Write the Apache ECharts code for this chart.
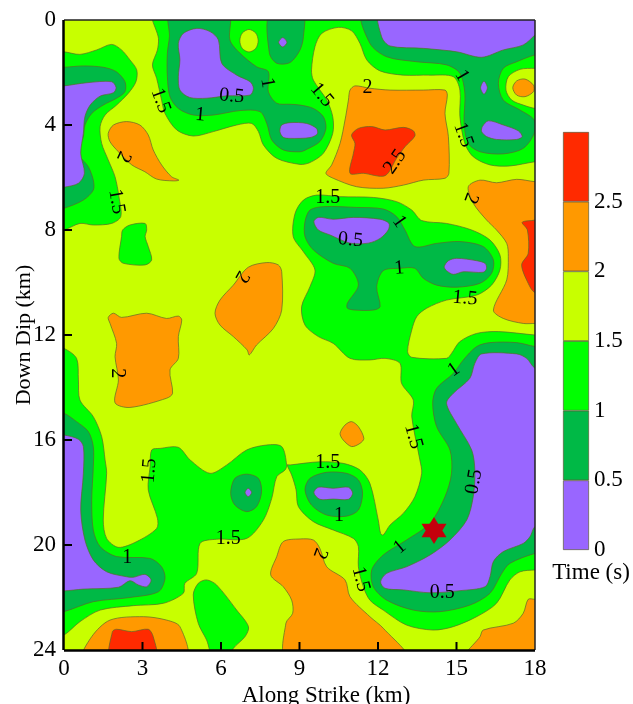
<!DOCTYPE html>
<html><head><meta charset="utf-8">
<style>html,body{margin:0;padding:0;background:#fff}#c{width:633px;height:704px}</style>
<script src="https://cdn.jsdelivr.net/npm/echarts@6/dist/echarts.min.js"></script>
</head><body><div id="c"></div>
<script>
// Contour band outlines: [along strike km, down dip km]
const green1=[[0,1.21],[.61,1.31],[1.25,1.14],[1.82,.93],[2.2,1.14],[2.52,1.52],[2.78,1.9],[2.75,2.35],[2.46,2.79],[2.01,3.24],[1.57,3.62],[1.38,4.06],[1.44,4.7],[1.69,5.33],[1.95,5.97],[2.1,6.73],[2.17,7.49],[1.82,7.75],[1.12,7.81],[.61,7.75],[0,8],[-.3,8],[-.3,1.21]];
const green2=[[3.44,-.3],[3.61,.7],[3.57,1.14],[3.38,1.71],[3.54,2.22],[3.73,3.05],[3.86,3.56],[4.31,4.19],[4.94,4.42],[5.71,4.25],[6.6,4],[7.17,3.94],[7.43,4.25],[7.62,4.76],[8.13,5.27],[9.02,5.5],[9.4,5.43],[9.91,5.08],[10.27,4.32],[10.27,3.68],[10.04,3.05],[9.53,2.29],[9.46,1.9],[9.59,1.02],[9.85,.51],[10.48,.28],[10.99,.41],[11.31,.89],[11.57,1.52],[12.08,1.94],[12.97,2.1],[13.99,2.1],[14.88,2.16],[15.13,2.67],[15.13,3.68],[15.32,4.7],[15.64,5.21],[16.28,5.52],[17.04,5.56],[18,5.4],[18.3,5.4],[18.3,-.3]];
const green3=[[8.83,7.37],[9.15,6.86],[9.66,6.67],[10.55,6.73],[11.82,6.76],[12.71,6.92],[13.29,7.24],[13.67,7.64],[14.62,7.75],[15.58,8],[16.28,8.38],[16.66,8.95],[16.66,9.52],[16.34,10.1],[15.77,10.48],[14.62,10.67],[13.86,10.98],[13.48,11.3],[13.29,11.81],[13.13,12.63],[13.29,12.85],[14.62,12.89],[14.81,12.7],[15.13,12.25],[15.77,11.94],[16.6,11.87],[18,12],[18.3,12],[18.3,20.95],[18,20.95],[17.43,21.02],[17.04,21.33],[16.53,22.22],[15.77,22.73],[14.88,23.11],[14.11,23.24],[13.09,23.05],[12.2,22.48],[11.69,22.1],[11.44,21.59],[11.25,20.83],[11.25,20.06],[11.06,19.75],[10.29,19.43],[9.53,19.11],[8.96,18.54],[8.87,17.9],[8.7,17.33],[8.53,16.95],[8.64,16.95],[9.78,16.83],[10.67,16.89],[11.31,17.14],[11.69,17.65],[12.01,19.05],[12.1,19.56],[12.2,19.62],[12.46,19.24],[12.97,18.79],[13.41,18.16],[13.67,17.27],[13.6,16.76],[13.29,15.11],[13.35,14.48],[12.9,13.84],[12.84,13.08],[12.27,12.89],[11.69,12.95],[10.93,12.89],[10.29,12.32],[9.72,12.06],[9.21,11.62],[9.08,10.92],[9.4,10.16],[9.59,9.52],[9.15,8.83],[8.76,8.25]];
const green4=[[2.24,8],[2.52,7.81],[3.1,7.75],[3.16,8],[3.1,8.25],[3.22,8.63],[3.35,9.14],[3.1,9.33],[2.27,9.27],[2.1,9.08],[2.2,8.25]];
const green5=[[0,12.51],[.48,12.89],[.55,13.71],[.61,14.48],[1.12,15.11],[1.44,15.87],[1.57,16.76],[1.63,17.27],[1.5,19.05],[1.63,19.75],[2.08,20.09],[2.78,19.87],[3.54,19.37],[3.57,18.98],[3.22,17.9],[3.29,17.02],[3.35,16.38],[3.67,16.32],[4.37,16.28],[4.82,16.76],[5.58,17.27],[6.22,16.95],[6.98,16.38],[7.75,16.19],[8.32,16.25],[8.51,16.95],[8.45,17.14],[8.13,17.4],[7.94,18.22],[7.62,19.05],[6.98,19.75],[5.83,19.78],[5.2,19.94],[5.07,21.08],[4.62,21.46],[4.56,21.84],[3.8,22.22],[2.65,22.31],[1.38,22.48],[.61,22.92],[0,23.43],[-.3,23.43],[-.3,12.51]];
const green6=[[4.94,21.9],[5.13,21.46],[5.45,21.33],[5.83,21.52],[6.6,22.48],[7.05,23.11],[6.92,23.49],[6.47,23.94],[6.34,24.3],[5.71,24.3],[5.45,23.62],[5.13,22.98]];
const dark1=[[0,1.8],[.74,1.75],[1.5,1.8],[2,1.97],[2.33,2.35],[2.33,2.73],[2.01,2.98],[1.5,3.24],[1.06,3.56],[.8,4],[.74,4.44],[.55,5.08],[.93,5.59],[1.12,6.1],[1.12,6.48],[.74,6.86],[0,7.17],[-.3,7.17],[-.3,1.8]];
const dark2=[[11.44,-.3],[11.69,.89],[12.33,1.4],[13.48,1.59],[14.62,1.71],[15.13,2.03],[15.32,2.79],[15.29,3.94],[15.45,4.7],[15.9,5.02],[16.79,5.1],[17.55,4.89],[17.97,4.32],[17.97,3.81],[17.43,3.43],[16.79,3.05],[16.6,2.41],[16.79,1.84],[17.3,1.59],[18,1.33],[18.3,1.33],[18.3,-.3]];
const dark3=[[4.05,-.3],[4.03,.63],[3.95,1.27],[3.95,2.16],[4.05,2.92],[4.37,3.37],[4.94,3.62],[5.71,3.62],[6.73,3.45],[7.49,3.49],[7.75,3.94],[7.94,4.57],[8.38,4.95],[9.02,5.02],[9.27,4.93],[9.78,4.63],[10.01,4.13],[9.91,3.68],[9.53,3.37],[9.02,3.24],[8.64,3.21],[8.13,3.17],[7.81,2.73],[7.81,1.97],[7.36,1.78],[6.73,1.27],[6.34,.76],[6.28,-.3]];
const dark4=[[7.87,-.3],[7.85,1.27],[8.13,1.65],[8.64,1.62],[9.02,1.14],[9.15,.63],[9.12,-.3]];
const dark5=[[9.21,7.68],[9.4,7.24],[9.91,7.11],[11.18,7.14],[12.2,7.2],[12.71,7.49],[13.03,8],[13.41,8.63],[14.24,8.51],[15.13,8.44],[16.02,8.63],[16.41,9.14],[16.34,9.65],[15.9,10.03],[15.01,10.18],[14.24,10.1],[13.73,9.84],[13.41,9.46],[12.84,9.46],[12.2,9.55],[11.95,10.16],[12.08,10.92],[11.82,11.05],[11.12,11.05],[10.83,10.98],[10.83,10.79],[11.25,10.1],[10.93,9.46],[10.29,9.27],[9.53,8.76],[9.21,8.25]];
const dark6=[[0,14.98],[.48,15.3],[.93,15.68],[1.12,16.25],[1.12,17.02],[1.06,18.29],[1.12,19.43],[1.38,20.06],[2.01,20.44],[3.29,20.51],[3.73,20.83],[3.86,21.27],[3.61,21.78],[2.52,22],[1.12,22.16],[0,22.54],[-.3,22.54],[-.3,14.98]];
const dark7=[[6.98,17.3],[7.43,17.46],[7.55,17.97],[7.36,18.54],[6.98,18.73],[6.53,18.48],[6.37,18.03],[6.53,17.46]];
const dark8=[[18,12.44],[17.3,12.29],[16.28,12.29],[15.77,12.44],[15.26,12.95],[14.88,13.46],[14.24,14.03],[14.09,14.6],[14.24,15.49],[14.75,16.38],[14.81,17.27],[14.56,18.16],[13.99,19.17],[13.09,19.81],[12.2,20.38],[11.76,20.95],[11.82,21.59],[12.33,22.1],[13.35,22.48],[14.37,22.54],[15.51,22.29],[16.28,21.84],[16.73,21.08],[17.04,20.7],[18,20.32],[18.3,20.32],[18.3,12.44]];
const dark9=[[9.21,17.9],[9.4,17.46],[10.04,17.23],[10.8,17.27],[11.25,17.52],[11.41,18.03],[11.25,18.67],[10.8,18.9],[10.04,18.86],[9.46,18.48]];
const yellow1=[[18,1.84],[17.43,1.88],[16.98,2.16],[16.89,2.67],[17.11,3.05],[17.55,3.24],[18,3.37],[18.3,3.37],[18.3,1.84]];
const yellow2=[[7.07,.36],[7.33,.5],[7.42,.79],[7.33,1.08],[7.07,1.22],[6.81,1.08],[6.72,.79],[6.81,.5]];
const purple1=[[0,2.51],[.87,2.39],[1.82,2.35],[1.99,2.57],[1.89,2.77],[1.38,2.9],[1,3.24],[.8,3.68],[.74,4.32],[.64,5.08],[.78,5.84],[.55,6.22],[0,6.37],[-.3,6.37],[-.3,2.51]];
const purple2=[[4.37,.89],[4.56,.51],[5.07,.32],[5.58,.44],[5.9,.76],[6.03,1.65],[6.6,2.1],[7.11,2.35],[7.24,2.6],[7.11,2.86],[6.22,2.89],[5.45,2.98],[4.8,2.95],[4.43,2.67],[4.37,2.16],[4.43,1.52]];
const purple3=[[8.36,.67],[8.52,.85],[8.36,1.03],[8.2,.85]];
const purple4=[[8.64,3.91],[9.27,3.94],[9.65,4.13],[9.68,4.34],[9.4,4.48],[8.64,4.51],[8.38,4.47],[8.25,4.25],[8.32,4]];
const purple5=[[12.08,-.3],[12.14,.64],[12.46,.99],[13.73,1.08],[15,1.21],[15.96,1.42],[16.79,1.14],[17.55,.95],[18,.57],[18.3,.3],[18.3,-.3]];
const purple6=[[16.05,2.33],[16.18,2.58],[16.05,2.83],[15.92,2.58]];
const purple7=[[15.99,4.06],[16.22,3.84],[16.79,4],[17.36,4.22],[17.51,4.44],[17.3,4.55],[16.53,4.55],[16.15,4.44],[15.96,4.25]];
const purple8=[[9.55,7.68],[9.72,7.52],[10.29,7.59],[11.06,7.52],[12.08,7.59],[12.42,7.75],[12.39,8],[12.08,8.32],[11.63,8.5],[10.93,8.5],[10.17,8.19],[9.72,8]];
const purple9=[[14.53,9.4],[14.69,9.17],[15.01,9.08],[15.77,9.17],[16.09,9.27],[16.15,9.46],[16.02,9.61],[15.26,9.59],[14.88,9.69],[14.62,9.55]];
const purple10=[[0,15.81],[.55,15.97],[.74,16.25],[.74,17.27],[.64,18.67],[.8,19.81],[1.12,20.57],[1.63,21.02],[2.39,21.21],[2.65,21.23],[3.1,21.12],[3.33,21.33],[3.16,21.59],[2.84,21.52],[2.52,21.36],[2.08,21.61],[.74,21.68],[0,21.75],[-.3,21.75],[-.3,15.81]];
const purple11=[[7.04,17.84],[7.17,18],[7.04,18.16],[6.92,18]];
const purple12=[[9.55,18.01],[9.72,17.8],[10.29,17.84],[10.87,17.8],[11.03,18.03],[10.87,18.26],[10.29,18.25],[9.78,18.26]];
const purple13=[[15.96,12.72],[17.3,12.72],[17.68,12.89],[18,13.27],[18.3,13.27],[18.3,19.4],[18,19.3],[17.81,19.68],[17.55,19.94],[16.79,20.25],[16.41,20.63],[16.28,21.21],[16.09,21.59],[15.13,21.74],[13.99,21.82],[12.97,21.71],[12.27,21.65],[12.1,21.4],[12.33,21.08],[13.09,20.83],[13.99,20.38],[14.75,19.81],[15.39,19.05],[15.64,18.16],[15.7,17.14],[15.58,16.38],[15,15.37],[14.62,14.6],[14.88,14.22],[15.51,13.65],[15.7,13.08]];
const orange1=[[1.69,4.32],[1.89,4],[2.39,3.87],[2.9,4],[3.22,4.38],[3.41,4.95],[3.73,5.52],[4.11,5.97],[4.39,6.1],[4.18,6.13],[3.54,6.06],[3.09,5.78],[2.59,5.52],[2.08,5.02],[1.76,4.64]];
const orange2=[[10.93,2.67],[11.12,2.51],[11.69,2.6],[12.46,2.67],[13.73,2.67],[14.56,2.67],[14.65,2.86],[14.56,3.56],[14.69,4.44],[14.71,5.84],[14.56,6.03],[13.73,6.1],[12.97,6.29],[12.2,6.41],[11.18,6.35],[10.29,6.03],[10.01,5.84],[10.23,5.52],[10.55,4.7],[10.74,3.81],[10.87,3.05]];
const orange3=[[17.15,2.58],[17.3,2.32],[17.62,2.25],[17.94,2.48],[17.94,2.73],[17.62,2.92],[17.3,2.86]];
const orange4=[[15.45,6.35],[15.9,6.1],[16.53,6.2],[17.3,6.07],[18,6.16],[18.3,6.16],[18.3,11.56],[18,11.56],[17.55,11.56],[16.79,11.37],[16.41,11.05],[16.92,9.9],[16.98,9.02],[16.92,8.51],[16.53,8],[16.15,7.62],[15.64,6.98]];
const orange5=[[5.77,11.17],[5.96,10.67],[6.47,10.1],[7.04,9.42],[7.75,9.24],[8.19,9.33],[8.32,9.59],[8.32,11.05],[8,11.75],[7.36,12.38],[7.08,12.76],[7,12.57],[6.47,12.06],[5.96,11.62]];
const orange6=[[1.69,11.33],[1.89,11.17],[2.2,11.33],[3.16,11.17],[3.92,11.37],[4.37,11.28],[4.5,11.43],[4.37,12.06],[4.37,12.89],[4.05,13.33],[4.15,14.22],[3.92,14.41],[2.52,14.76],[1.95,14.58],[2.08,13.71],[1.95,12.83],[2.01,12.32],[1.76,11.56]];
const orange7=[[10.55,15.75],[10.74,15.43],[10.99,15.3],[11.25,15.49],[11.46,15.94],[11.31,16.13],[10.99,16.25],[10.67,16]];
const orange8=[[.74,24.3],[1.06,23.49],[1.76,22.86],[3.03,22.73],[3.92,22.86],[4.43,23.11],[4.66,24.3]];
const orange9=[[7.9,21.14],[8.13,20.44],[8.38,19.87],[9.02,19.77],[9.53,19.81],[9.78,20.13],[10.04,20.83],[10.74,21.33],[10.93,21.97],[11.69,22.73],[12.2,23.17],[13.09,24.3],[8.51,24.3],[8.48,22.98],[8.74,22.6],[8.7,22.1],[8.38,21.59]];
const orange10=[[15.32,24.3],[15.9,23.49],[16.02,23.24],[17.17,22.98],[17.55,22.6],[17.74,22.07],[18,22.07],[18.3,22.07],[18.3,24.3]];
const red1=[[10.99,4.38],[11.25,4.13],[11.76,4.06],[12.27,4.19],[12.97,4.09],[13.35,4.22],[13.41,4.42],[13.03,4.83],[12.71,5.27],[12.27,5.93],[11.44,5.84],[10.93,5.84],[11.06,5.08],[11.12,4.7]];
const red2=[[17.51,7.71],[17.87,7.64],[18.3,7.64],[18.3,10.39],[17.97,10.37],[17.74,10.03],[17.49,9.33],[17.74,8.89],[17.71,8]];
const red3=[[1.78,24.3],[1.85,23.3],[2.01,23.21],[2.59,23.3],[3.22,23.21],[3.41,23.49],[3.5,24.3]];
// Band order in the colour scale, lowest first
const bandNames=['0–0.5','0.5–1','1–1.5','1.5–2','2–2.5','2.5–3'];
const bandColors=['#9966FF','#00B946','#00FF00','#C8FF00','#FF9900','#FF2A00'];
const bandWidths=[.5,.5,.5,.5,.5,.5];
const colorbarTicks=[0,.5,1,1.5,2,2.5];
const xTicks=[0,3,6,9,12,15,18];
const yTicks=[0,4,8,12,16,20,24];
const hypocenter=[[14.14,19.45]];
// Contour labels: text, along strike, down dip, clockwise turn in degrees
const contourLabels=[['1.5',3.69,3.07,70],['1',5.2,3.62,5],['0.5',6.41,2.9,5],['1',7.77,2.39,80],['1.5',9.85,2.86,50],['2',11.6,2.57,0],['2.5',12.65,5.4,-55],['1',15.2,2.12,60],['1.5',15.26,4.38,70],['2',15.54,6.79,110],['2',2.27,5.21,115],['1.5',2.01,6.92,80],['1.5',10.08,6.76,0],['1',12.81,7.68,55],['0.5',10.95,8.38,5],['1',12.81,9.46,-5],['1.5',15.32,10.6,5],['2',6.79,9.78,120],['2',2.05,13.46,90],['1',14.9,13.33,-35],['1.5',13.35,15.87,75],['1.5',3.26,17.17,-85],['1',2.42,20.48,0],['1.5',6.28,19.77,0],['1.5',10.08,16.86,0],['1',10.51,18.88,0],['0.5',15.67,17.59,-80],['2',9.78,20.32,110],['1.5',11.34,21.3,75],['1',12.84,20.09,-40],['0.5',14.46,21.8,0]];

const layers=[
 [2,green1],[2,green2],[2,green3],[2,green4],[2,green5],[2,green6],
 [3,yellow1],[3,yellow2],
 [1,dark1],[1,dark2],[1,dark3],[1,dark4],[1,dark5],[1,dark6],[1,dark7],[1,dark8],[1,dark9],
 [0,purple1],[0,purple2],[0,purple3],[0,purple4],[0,purple5],[0,purple6],[0,purple7],[0,purple8],[0,purple9],[0,purple10],[0,purple11],[0,purple12],[0,purple13],
 [4,orange1],[4,orange2],[4,orange3],[4,orange4],[4,orange5],[4,orange6],[4,orange7],[4,orange8],[4,orange9],[4,orange10],
 [5,red1],[5,red2],[5,red3]
];
const SERIF='"Liberation Serif","Times New Roman",serif';
const hexagram='path://M50 0L64.4 25H93.3L78.9 50L93.3 75H64.4L50 100L35.6 75H6.7L21.1 50L6.7 25H35.6Z';
const seg=(a,b,w,c)=>({type:'line',shape:{x1:a[0],y1:a[1],x2:b[0],y2:b[1]},style:{stroke:c||'#000',lineWidth:w}});
const chart=echarts.init(document.getElementById('c'),null,{renderer:'canvas'});
chart.setOption({
 animation:false,backgroundColor:'#fff',
 grid:[
  {left:64,right:98,top:20,bottom:54,backgroundColor:bandColors[3],show:true,borderWidth:0,containLabel:false,outerBoundsMode:'none'},
  {left:563,width:26,top:132,height:418,containLabel:false,outerBoundsMode:'none'}
 ],
 xAxis:[
  {gridIndex:0,type:'value',min:0,max:18,interval:3,position:'bottom',name:'Along Strike (km)',nameLocation:'middle',nameGap:33,
   nameTextStyle:{fontFamily:SERIF,fontSize:23,color:'#000',padding:[0,0,0,53]},
   axisLine:{show:false,onZero:false},axisTick:{show:false},
   axisLabel:{fontFamily:SERIF,fontSize:23,color:'#000',margin:7,formatter:v=>xTicks.includes(v)?String(v):''},splitLine:{show:false}},
  {gridIndex:1,type:'category',data:['Time'],axisLine:{show:false},axisTick:{show:false},axisLabel:{show:false},splitLine:{show:false}}
 ],
 yAxis:[
  {gridIndex:0,type:'value',min:0,max:24,interval:4,inverse:true,position:'left',name:'Down Dip (km)',nameLocation:'middle',nameGap:29,nameMoveOverlap:false,
   nameTextStyle:{fontFamily:SERIF,fontSize:22,color:'#000'},
   axisLine:{show:false,onZero:false},axisTick:{show:false},
   axisLabel:{fontFamily:SERIF,fontSize:23,color:'#000',margin:8,formatter:v=>yTicks.includes(v)?String(v):''},splitLine:{show:false}},
  {gridIndex:1,type:'value',min:0,max:3,interval:.5,position:'right',name:'Time (s)',nameLocation:'start',nameGap:10,
   nameTextStyle:{fontFamily:SERIF,fontSize:23,color:'#000',align:'center',verticalAlign:'top',padding:[0,0,0,4]},
   axisLine:{show:false},axisTick:{show:false},
   axisLabel:{fontFamily:SERIF,fontSize:23,color:'#000',margin:5,alignMinLabel:'top',formatter:v=>colorbarTicks.includes(v)?String(v):''},splitLine:{show:false}}
 ],
 series:[
  {type:'custom',xAxisIndex:0,yAxisIndex:0,coordinateSystem:'cartesian2d',clip:true,z:2,silent:true,
   data:layers.map((l,i)=>[i]),encode:{x:0},
   renderItem:(p,api)=>{const l=layers[api.value(0)];
    return {type:'polygon',shape:{points:l[1].map(c=>api.coord(c)),smooth:.3},style:{fill:bandColors[l[0]],stroke:'#5c6a2a',lineWidth:.7}};}},
  {type:'custom',xAxisIndex:0,yAxisIndex:0,coordinateSystem:'cartesian2d',clip:false,z:3,silent:true,
   data:contourLabels.map((l,i)=>[i]),encode:{x:0},
   renderItem:(p,api)=>{const l=contourLabels[api.value(0)],pt=api.coord([l[1],l[2]]);
    return {type:'text',x:pt[0],y:pt[1],rotation:-l[3]*Math.PI/180,style:{text:l[0],font:'20px '+SERIF,fill:'#000',align:'center',verticalAlign:'middle'}};}},
  {type:'scatter',xAxisIndex:0,yAxisIndex:0,data:hypocenter,symbol:hexagram,symbolSize:[25,27],z:4,silent:true,itemStyle:{color:'#C4000C',opacity:1}},
  {type:'custom',xAxisIndex:0,yAxisIndex:0,coordinateSystem:'cartesian2d',clip:false,z:5,silent:true,data:[[0]],encode:{x:0},
   renderItem:(p,api)=>{
    const tl=api.coord([0,0]),tr=api.coord([18,0]),bl=api.coord([0,24]),br=api.coord([18,24]);
    const kids=[seg(tl,tr,1.5,'#222'),seg(tr,br,1.5,'#222'),seg([tl[0]-.5,tl[1]],[bl[0]-.5,bl[1]],2.5),seg([bl[0],bl[1]+.5],[br[0],br[1]+.5],2.5)];
    xTicks.slice(1,-1).forEach(t=>{const q=api.coord([t,24]);kids.push(seg(q,[q[0],q[1]-8],2));});
    yTicks.slice(1,-1).forEach(t=>{const q=api.coord([0,t]);kids.push(seg(q,[q[0]+8,q[1]],2));});
    return {type:'group',children:kids};}},
  ...bandNames.map((n,i)=>({type:'bar',name:n,xAxisIndex:1,yAxisIndex:1,stack:'cb',barWidth:'100%',data:[bandWidths[i]],silent:true,
    itemStyle:{color:bandColors[i],borderColor:'#5a5a3a',borderWidth:.7}}))
 ]
});
</script></body></html>
